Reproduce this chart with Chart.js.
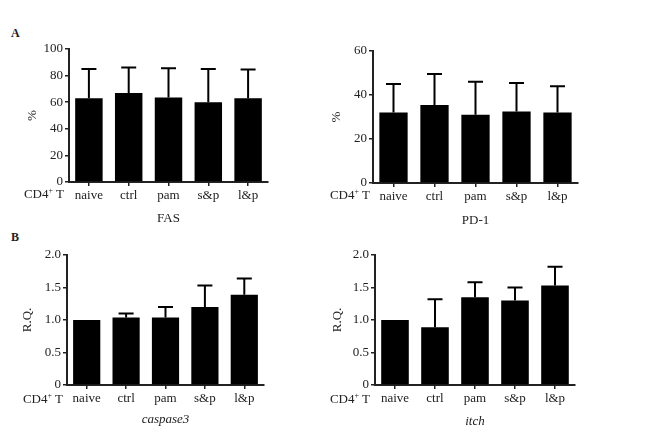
<!DOCTYPE html>
<html>
<head>
<meta charset="utf-8">
<script src="https://cdn.jsdelivr.net/npm/chart.js@4.4.1/dist/chart.umd.min.js"></script>
<style>
body { margin: 0; background: #fff; width: 670px; height: 434px; position: relative; overflow: hidden; font-family: 'Liberation Serif', serif; color: #222; }
canvas { position: absolute; }
.lab { position: absolute; font-size: 13px; white-space: nowrap; line-height: 14px; }
.letter { position: absolute; font-size: 12px; font-weight: bold; }
</style>
</head>
<body>
<div class="letter" style="left:11px;top:26px">A</div>
<div class="letter" style="left:11px;top:230px">B</div>

<canvas id="fas"></canvas>
<canvas id="pd1"></canvas>
<canvas id="casp"></canvas>
<canvas id="itch"></canvas>

<div class="lab" style="right:606px;top:184px">CD4<sup style="font-size:8px">+</sup> T</div>
<div class="lab" style="right:300px;top:185px">CD4<sup style="font-size:8px">+</sup> T</div>
<div class="lab" style="right:607px;top:389px">CD4<sup style="font-size:8px">+</sup> T</div>
<div class="lab" style="right:300px;top:389px">CD4<sup style="font-size:8px">+</sup> T</div>

<script>
var groups = ['naive', 'ctrl', 'pam', 's&p', 'l&p']

// FAS (%)
var fasMean = [63, 67, 63.5, 60, 63]
var fasErr = [22, 19, 22, 25, 21.5]

// PD-1 (%)
var pd1Mean = [32, 35.5, 31, 32.5, 32]
var pd1Err = [13, 14, 15, 13, 12]

// caspase3 (R.Q.)
var caspMean = [1.0, 1.04, 1.04, 1.2, 1.39]
var caspErr = [0, 0.06, 0.16, 0.33, 0.25]

// itch (R.Q.)
var itchMean = [1.0, 0.89, 1.35, 1.3, 1.53]
var itchErr = [0, 0.43, 0.23, 0.2, 0.29]

Chart.defaults.font.family = "'Liberation Serif', serif"
Chart.defaults.font.size = 13
Chart.defaults.color = '#222'

// draws upper error bars (line + cap) from the bar top
var errorBars = {
    id: 'errorBars',
    afterDatasetsDraw: function (chart) {
        var ctx = chart.ctx
        var yScale = chart.scales.y
        var meta = chart.getDatasetMeta(0)
        var ds = chart.data.datasets[0]
        ctx.save()
        ctx.strokeStyle = '#000'
        ctx.lineWidth = 2
        meta.data.forEach(function (bar, i) {
            var e = ds.err[i]
            if (!e) return
            var yTop = yScale.getPixelForValue(ds.data[i] + e)
            ctx.beginPath()
            ctx.moveTo(bar.x, bar.y)
            ctx.lineTo(bar.x, yTop)
            ctx.moveTo(bar.x - 7.5, yTop)
            ctx.lineTo(bar.x + 7.5, yTop)
            ctx.stroke()
        })
        ctx.restore()
    }
}

function makePanel(id, area, boxTop, boxBottom, mean, err, yMax, step, yTitle, yTitleX, xTitle, italic) {
    var boxLeft = area.left - 60
    var boxRight = area.right + 12
    var canvas = document.getElementById(id)
    canvas.width = boxRight - boxLeft
    canvas.height = boxBottom - boxTop
    canvas.style.left = boxLeft + 'px'
    canvas.style.top = boxTop + 'px'

    var yWidth = area.left - boxLeft
    var xHeight = boxBottom - area.bottom

    return new Chart(canvas, {
        type: 'bar',
        data: {
            labels: groups,
            datasets: [{
                data: mean,
                err: err,
                backgroundColor: '#000',
                borderWidth: 0,
                categoryPercentage: 1,
                barPercentage: 0.69
            }]
        },
        options: {
            responsive: false,
            animation: false,
            devicePixelRatio: 1,
            layout: { padding: { top: area.top - boxTop, right: boxRight - area.right, left: 0, bottom: 0 } },
            plugins: { legend: { display: false }, tooltip: { enabled: false } },
            scales: {
                x: {
                    afterFit: function (s) { s.height = xHeight },
                    grid: { offset: false, drawOnChartArea: false, drawTicks: true, tickLength: 4, color: '#222', lineWidth: 1.5 },
                    border: { color: '#222', width: 2 },
                    ticks: { padding: 2, color: '#222' },
                    title: { display: true, text: xTitle, color: '#222', padding: 0,
                             font: { size: 13, style: italic ? 'italic' : 'normal' } }
                },
                y: {
                    min: 0,
                    max: yMax,
                    afterFit: function (s) { s.width = yWidth },
                    grid: { drawOnChartArea: false, drawTicks: true, tickLength: 4, color: '#222', lineWidth: 1.5 },
                    border: { color: '#222', width: 2 },
                    ticks: {
                        stepSize: step,
                        padding: 2,
                        color: '#222',
                        callback: function (v) { return v === 0 ? '0' : (step < 1 ? v.toFixed(1) : v) }
                    },
                    title: { display: true, text: yTitle, color: '#222', font: { size: 13 },
                             padding: { top: yTitleX - boxLeft - 7.8, bottom: 0 } }
                }
            }
        },
        plugins: [errorBars]
    })
}

makePanel('fas',  { left: 69, right: 268, top: 49, bottom: 182 }, 35, 226, fasMean, fasErr, 100, 20, '%', 33, 'FAS', false)
makePanel('pd1',  { left: 373, right: 578, top: 51, bottom: 183 }, 35, 228, pd1Mean, pd1Err, 60, 20, '%', 337, 'PD-1', false)
makePanel('casp', { left: 67, right: 264, top: 255, bottom: 385 }, 240, 427, caspMean, caspErr, 2, 0.5, 'R.Q.', 28, 'caspase3', true)
makePanel('itch', { left: 375, right: 575, top: 255, bottom: 385 }, 240, 429, itchMean, itchErr, 2, 0.5, 'R.Q.', 338, 'itch', true)
</script>
</body>
</html>
